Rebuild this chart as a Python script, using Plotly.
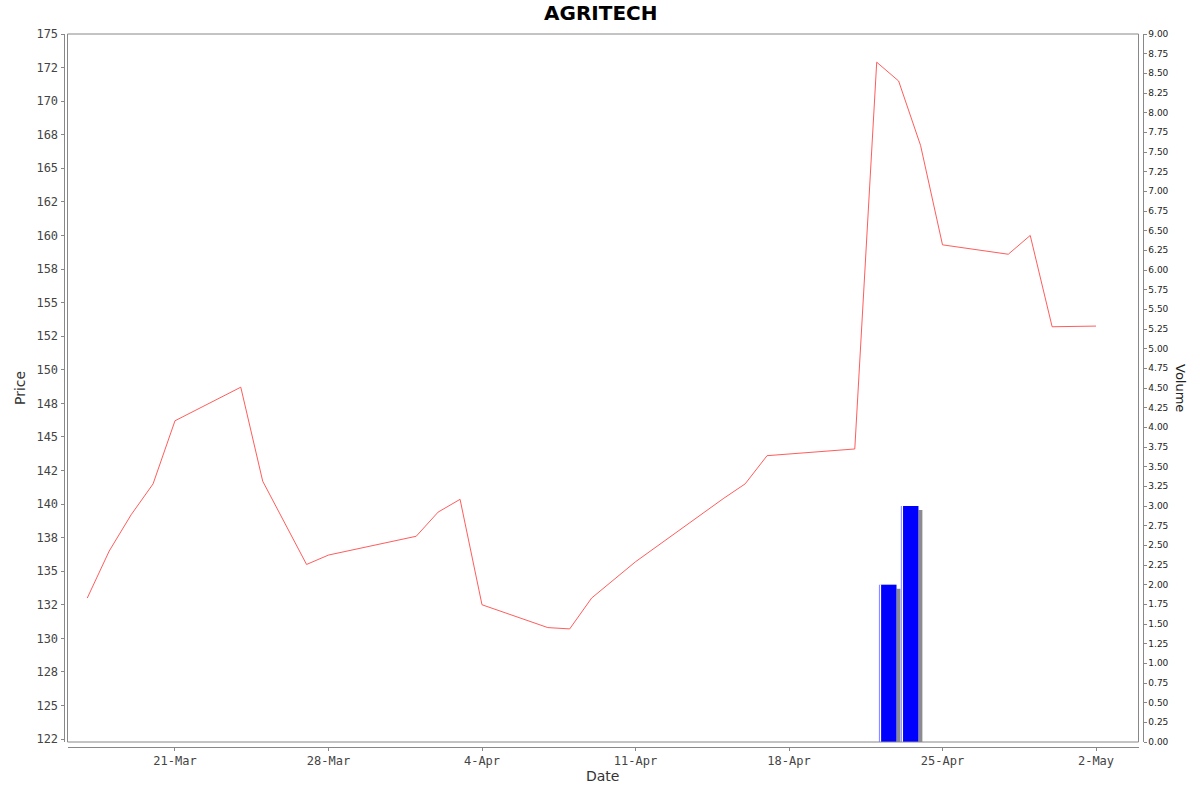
import plotly.graph_objects as go
import pandas as pd

# ---- data ----
dates = ["2025-03-17", "2025-03-18", "2025-03-19", "2025-03-20", "2025-03-21",
         "2025-03-24", "2025-03-25", "2025-03-27", "2025-03-28",
         "2025-04-01", "2025-04-02", "2025-04-03", "2025-04-04",
         "2025-04-07", "2025-04-08", "2025-04-09", "2025-04-11",
         "2025-04-15", "2025-04-16", "2025-04-17", "2025-04-21",
         "2025-04-22", "2025-04-23", "2025-04-24", "2025-04-25",
         "2025-04-28", "2025-04-29", "2025-04-30", "2025-05-02"]
prices = [133.0, 136.5, 139.2, 141.5, 146.2,
          148.7, 141.7, 135.5, 136.2,
          137.6, 139.4, 140.35, 132.5,
          130.8, 130.7, 133.0, 135.7,
          140.4, 141.5, 143.6, 144.1,
          172.9, 171.5, 166.7, 159.3,
          158.6, 160.0, 153.2, 153.25]
vol_dates = ["2025-04-22", "2025-04-23"]
volumes = [2.0, 3.0]

price_tick_vals = [122.5 + 2.5 * i for i in range(22)]
price_tick_text = ["122", "125", "128", "130", "132", "135", "138", "140", "142", "145",
                   "148", "150", "152", "155", "158", "160", "162", "165", "168", "170",
                   "172", "175"]
vol_tick_vals = [0.25 * i for i in range(37)]
vol_tick_text = ["%.2f" % v for v in vol_tick_vals]
date_ticks = ["2025-03-21", "2025-03-28", "2025-04-04", "2025-04-11",
              "2025-04-18", "2025-04-25", "2025-05-02"]
date_tick_text = ["21-Mar", "28-Mar", "4-Apr", "11-Apr", "18-Apr", "25-Apr", "2-May"]

# ---- layout geometry (pixels) ----
W, H = 1200, 792
PL, PR, PT, PB = 67.5, 1138.5, 34, 742
px_per_day = 21.93
DAY = 86400000
MONO = "DejaVu Sans Mono"
SANS = "DejaVu Sans"

fig = go.Figure()

# volume bars: shadow, light edge, white gap, blue body
vd = pd.to_datetime(vol_dates)
shadow_off = 4 / px_per_day
shadow_drop = 4 / (708 / 9.0)
fig.add_trace(go.Bar(x=vd, y=[v - shadow_drop for v in volumes], yaxis="y2",
                     offset=(0.1 + shadow_off) * DAY, width=0.8 * DAY,
                     marker=dict(color="#8c8c8c", line=dict(width=0)),
                     hoverinfo="skip", showlegend=False))
fig.add_trace(go.Bar(x=vd, y=volumes, yaxis="y2",
                     offset=0.1 * DAY, width=0.8 * DAY,
                     marker=dict(color="#8080ff", line=dict(width=0)),
                     hoverinfo="skip", showlegend=False))
fig.add_trace(go.Bar(x=vd, y=volumes, yaxis="y2",
                     offset=0.1 * DAY + DAY / px_per_day, width=0.8 * DAY - DAY / px_per_day,
                     marker=dict(color="#ffffff", line=dict(width=0)),
                     hoverinfo="skip", showlegend=False))
fig.add_trace(go.Bar(x=vd, y=volumes, yaxis="y2", name="Volume",
                     offset=0.1 * DAY + 2.2 * DAY / px_per_day, width=0.8 * DAY - 2.2 * DAY / px_per_day,
                     marker=dict(color="#0000ff", line=dict(width=0)),
                     showlegend=False))

fig.add_trace(go.Scatter(x=pd.to_datetime(dates), y=prices, mode="lines", yaxis="y",
                         line=dict(color="rgba(255,64,64,0.85)", width=1),
                         name="Price", showlegend=False))

x0 = pd.Timestamp(date_ticks[0]) - pd.Timedelta(days=(175 - PL) / px_per_day)
x1 = pd.Timestamp(date_ticks[-1]) + pd.Timedelta(days=(PR - 1096) / px_per_day)

axis_common = dict(showgrid=False, zeroline=False, showline=True, linecolor="#888888",
                   linewidth=1, ticks="outside", ticklen=3, tickcolor="#888888",
                   automargin=False)

fig.update_layout(
    template="none",
    width=W, height=H,
    margin=dict(l=0, r=0, t=0, b=0, pad=0, autoexpand=False),
    paper_bgcolor="white", plot_bgcolor="white",
    barmode="overlay",
    showlegend=False,
    xaxis=dict(type="date", range=[x0, x1], domain=[PL / W, PR / W],
               anchor="free", position=(H - 747) / H,
               tickvals=pd.to_datetime(date_ticks), ticktext=date_tick_text,
               tickfont=dict(family=MONO, size=12, color="#444444"),
               **axis_common),
    yaxis=dict(range=[122.28, 175], domain=[(H - PB) / H, (H - PT) / H],
               anchor="free", position=63.5 / W,
               tickvals=price_tick_vals, ticktext=price_tick_text,
               tickfont=dict(family=MONO, size=12, color="#444444"),
               **axis_common),
    yaxis2=dict(range=[0, 9], overlaying="y", side="right",
                anchor="free", position=1142.5 / W,
                tickvals=vol_tick_vals, ticktext=vol_tick_text,
                tickfont=dict(family=SANS, size=9, color="#222222"),
                **axis_common),
    shapes=[dict(type="rect", xref="paper", yref="paper",
                 x0=PL / W, x1=PR / W, y0=(H - PB) / H, y1=(H - PT) / H,
                 line=dict(color="#888888", width=1), fillcolor="rgba(0,0,0,0)",
                 layer="above")],
    annotations=[
        dict(text="<b>AGRITECH</b>", x=600 / W, y=(H - 13) / H, xref="paper", yref="paper",
             showarrow=False, font=dict(family=SANS, size=20, color="#000000"),
             xanchor="center", yanchor="middle"),
        dict(text="Date", x=602 / W, y=(H - 776) / H, xref="paper", yref="paper",
             showarrow=False, font=dict(family=SANS, size=14, color="#333333"),
             xanchor="center", yanchor="middle"),
        dict(text="Price", x=20 / W, y=(H - 388) / H, xref="paper", yref="paper",
             showarrow=False, textangle=-90, font=dict(family=SANS, size=14, color="#333333"),
             xanchor="center", yanchor="middle"),
        dict(text="Volume", x=1181 / W, y=(H - 388) / H, xref="paper", yref="paper",
             showarrow=False, textangle=90, font=dict(family=SANS, size=13, color="#222222"),
             xanchor="center", yanchor="middle"),
    ],
)

fig.write_html("out.html", config={"displayModeBar": False},
               post_script="document.body.style.margin='0px';document.body.style.overflow='hidden';")
